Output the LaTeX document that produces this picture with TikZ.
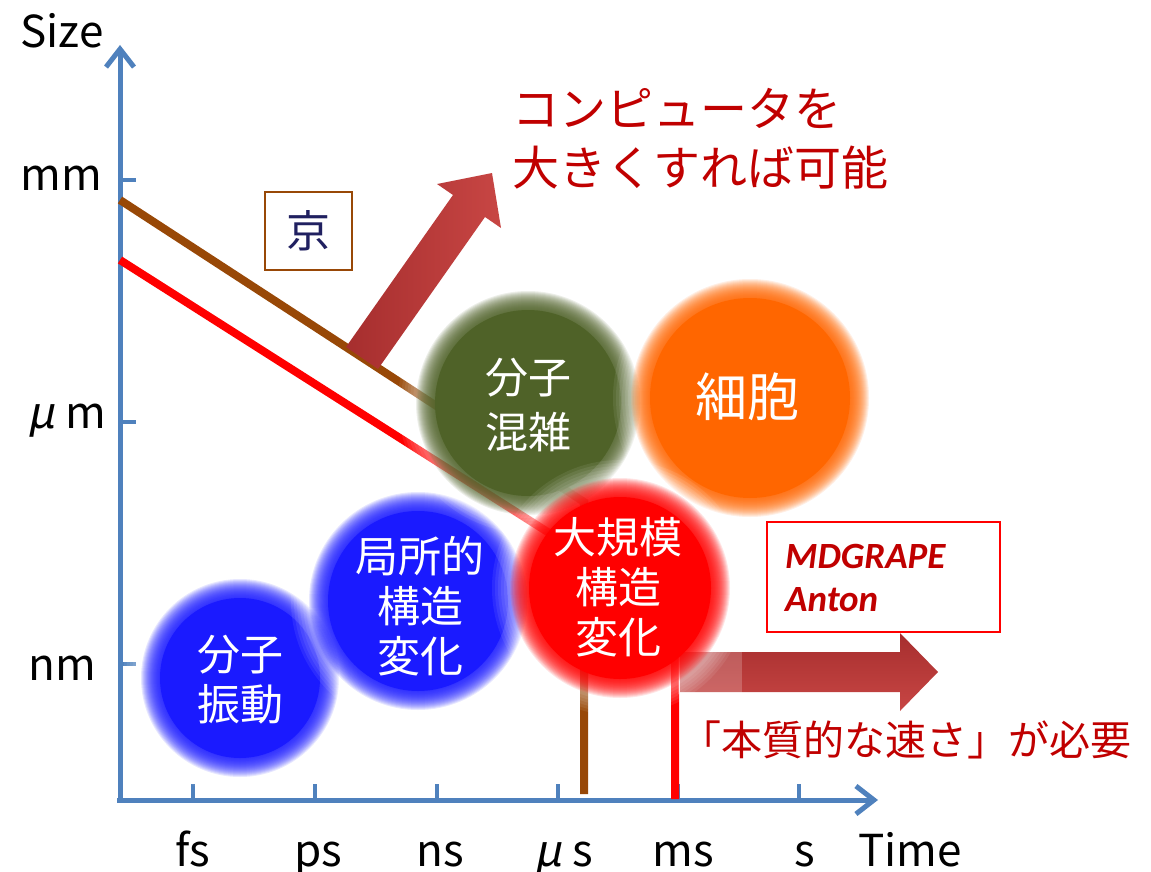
\documentclass[tikz,border=0pt]{standalone}
\usepackage{fontspec}
\setmainfont{Noto Sans CJK JP}
\newfontfamily\calib{Carlito}
\newfontfamily\slantmu[FakeSlant=0.2]{Noto Sans CJK JP}
\usetikzlibrary{arrows.meta}
\definecolor{axisblue}{HTML}{4F81BD}
\definecolor{brownl}{HTML}{984807}
\definecolor{darkred}{HTML}{C00000}
\definecolor{kyonavy}{HTML}{202060}
\definecolor{cblue}{HTML}{1A1AFF}
\definecolor{cred}{HTML}{FF0000}
\definecolor{colive}{HTML}{4F6228}
\definecolor{corange}{HTML}{FF6600}
\definecolor{arrdark}{RGB}{166,46,46}
\definecolor{arrlight}{RGB}{200,70,68}
% soft-edged disc: center, radius, colour
\newcommand\softdisc[3]{%
  \foreach \k in {0,...,7} \fill[white,opacity=0.08] (#1) circle[radius=#2+6+3*\k];
  \foreach \k in {0,...,19} \fill[#3,opacity=0.1] (#1) circle[radius=#2+9-\k];
  \fill[#3] (#1) circle[radius=#2-10];
}
\begin{document}
\begin{tikzpicture}[x=1pt,y=-1pt,
  axis/.style={draw=axisblue,line width=5pt},
  tickmark/.style={draw=axisblue,line width=4pt},
  lbl/.style={anchor=base,inner sep=0pt,font=\fontsize{44}{50}\selectfont},
  ctext/.style={text=white,align=center,inner sep=0pt,font=\fontsize{43}{50}\selectfont},
  redtext/.style={text=darkred,anchor=west,inner sep=0pt},
  mdtext/.style={anchor=west,inner sep=0pt,text=darkred,font=\calib\bfseries\itshape\fontsize{37}{40}\selectfont},
]
\useasboundingbox (0,0) rectangle (1151,872);
% axes
\coordinate (O) at (120,802);
\coordinate (ytop) at (120,45);
\coordinate (xO) at (117,800);
\coordinate (xend) at (878,800);
\draw[axis,-{Straight Barb[length=18pt,width=28pt]}] (O) -- (ytop);
\draw[axis,-{Straight Barb[length=18pt,width=28pt]}] (xO) -- (xend);
\foreach \y in {180,422,664} \draw[tickmark] (118,\y) -- (136,\y);
\foreach \x in {193,315,437,558,678,799} \draw[tickmark] (\x,800) -- (\x,784);
% axis labels
\node[lbl] (size) at (62,48) {Size};
\node[lbl] (mm) at (61,190) {mm};
\node[lbl] (um) at (67,428) {{\slantmu μ} m};
\node[lbl] (nm) at (62,680) {nm};
\node[lbl] (fs) at (193,866) {fs};
\node[lbl] (ps) at (318,866) {ps};
\node[lbl] (ns) at (440,866) {ns};
\node[lbl] (us) at (564,866) {{\slantmu μ} s};
\node[lbl] (ms) at (683,866) {ms};
\node[lbl] (s) at (805,866) {s};
\node[lbl] (time) at (910,866) {Time};
% lines
\coordinate (b0) at (120,200);
\coordinate (b1) at (584,502);
\coordinate (b2) at (584,794);
\coordinate (r0) at (120,260);
\coordinate (r1) at (675,613);
\coordinate (r2) at (675,799);
\draw[brownl,line width=8pt] (b0) -- (b1) -- (b2);
\draw[cred,line width=8pt] (r0) -- (r1) -- (r2);
% fat arrows
\shade[left color=arrdark,right color=arrlight] (346,347) -- (453,195) -- (437,184) -- (492,173) -- (501,228) -- (485,217) -- (378,369) -- cycle;
\shade[top color=arrdark,bottom color=arrlight] (680,652) -- (900,652) -- (900,633) -- (938,672) -- (900,711) -- (900,692) -- (680,692) -- cycle;
\fill[white,opacity=0.2] (678,650) rectangle (742,694);
% circles
\softdisc{240,678}{90}{cblue}
\softdisc{418,601}{100}{cblue}
\softdisc{528,403}{103}{colive}
\softdisc{750,398}{110}{corange}
\softdisc{620,588}{101}{cred}
\node[ctext] (c1) at (240,680) {分子\\振動};
\node[ctext] (c2) at (420,606) {局所的\\構造\\変化};
\node[ctext] (c3) at (618,587) {大規模\\構造\\変化};
\node[ctext,font=\fontsize{43}{55}\selectfont] (c4) at (528,405) {分子\\混雑};
\node[ctext,font=\fontsize{52}{60}\selectfont] (c5) at (747,397) {細胞};
% boxes
\node[draw=brownl,line width=2pt,minimum width=87pt,minimum height=78pt,inner sep=0pt,text=kyonavy,font=\fontsize{44}{44}\selectfont] (kyo) at (308.5,231) {京};
\node[draw=cred,line width=2pt,minimum width=233pt,minimum height=110pt,inner sep=0pt] (mdbox) at (883.5,577) {};
\node[mdtext] (md) at (785,556) {MDGRAPE};
\node[mdtext] (anton) at (785,600) {Anton};
% red texts
\node[redtext,font=\fontsize{47}{47}\selectfont] (t1) at (512,108) {コンピュータを};
\node[redtext,font=\fontsize{47}{47}\selectfont] (t2) at (512,168) {大きくすれば可能};
\node[redtext,font=\fontsize{41}{41}\selectfont] (t3) at (680,740) {「本質的な速さ」が必要};
\end{tikzpicture}
\end{document}
